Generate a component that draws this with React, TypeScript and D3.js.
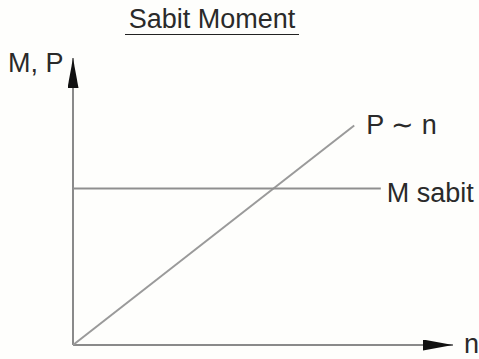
import React, { useEffect, useRef } from 'react';
import * as d3 from 'd3';

// diagram values (abstract units)
const nValues = [0, 7.4];
const pValues = [0, 7.65];
const mLevel = 5.45;
const mRange = [0, 8.1];
const labels = { title: 'Sabit Moment', yAxis: 'M, P', xAxis: 'n', p: 'P \u223C n', m: 'M sabit' };

const App = () => {
  const svgRef = useRef(null);

  useEffect(() => {
    const width = 479;
    const height = 359;
    const svg = d3.select(svgRef.current);
    svg.selectAll('*').remove();

    const font = 'Liberation Sans, Arial, sans-serif';

    svg.append('rect').attr('width', width).attr('height', height).attr('fill', '#fefefc');

    const xScale = d3.scaleLinear().domain([0, 10]).range([73, 453]);
    const yScale = d3.scaleLinear().domain([0, 10]).range([345, 58]);

    // arrow marker
    const defs = svg.append('defs');
    defs.append('marker')
      .attr('id', 'arrow')
      .attr('viewBox', '0 0 10 10')
      .attr('refX', 10)
      .attr('refY', 5)
      .attr('markerUnits', 'userSpaceOnUse')
      .attr('markerWidth', 30)
      .attr('markerHeight', 11)
      .attr('orient', 'auto')
      .attr('preserveAspectRatio', 'none')
      .append('path')
      .attr('d', 'M0,0 L10,5 L0,10 Z')
      .attr('fill', '#111');

    // axes
    svg.append('line')
      .attr('x1', xScale(0)).attr('y1', yScale(0))
      .attr('x2', xScale(10)).attr('y2', yScale(0))
      .attr('stroke', '#8a8a8a').attr('stroke-width', 2)
      .attr('marker-end', 'url(#arrow)');

    svg.append('line')
      .attr('x1', xScale(0)).attr('y1', yScale(0))
      .attr('x2', xScale(0)).attr('y2', yScale(10))
      .attr('stroke', '#8a8a8a').attr('stroke-width', 2)
      .attr('marker-end', 'url(#arrow)');

    // P ~ n line
    const line = d3.line().x(d => xScale(d[0])).y(d => yScale(d[1]));
    svg.append('path')
      .attr('d', line(nValues.map((n, i) => [n, pValues[i]])))
      .attr('fill', 'none').attr('stroke', '#9a9a9a').attr('stroke-width', 2);

    // M sabit line
    svg.append('path')
      .attr('d', line(mRange.map(n => [n, mLevel])))
      .attr('fill', 'none').attr('stroke', '#8f8f8f').attr('stroke-width', 2);

    const txt = (x, y, s, anchor = 'start') => svg.append('text')
      .attr('x', x).attr('y', y)
      .attr('text-anchor', anchor)
      .attr('font-family', font)
      .attr('font-size', 27)
      .attr('fill', '#2a2a2a')
      .text(s);

    txt(xScale(nValues[1]) + 12, yScale(pValues[1]) + 9, labels.p);
    txt(xScale(mRange[1]) + 6, yScale(mLevel) + 13, labels.m);
    txt(xScale(10) + 11, yScale(0) + 8, labels.xAxis);
    txt(8, 72, labels.yAxis);

    // title with underline
    txt(212, 28, labels.title, 'middle');
    svg.append('line')
      .attr('x1', 125).attr('x2', 299)
      .attr('y1', 34.5).attr('y2', 34.5)
      .attr('stroke', '#222').attr('stroke-width', 1.2);
  }, []);

  return (
    <svg ref={svgRef} width={479} height={359} style={{ position: 'absolute', left: 0, top: 0 }}></svg>
  );
};

export default App;
